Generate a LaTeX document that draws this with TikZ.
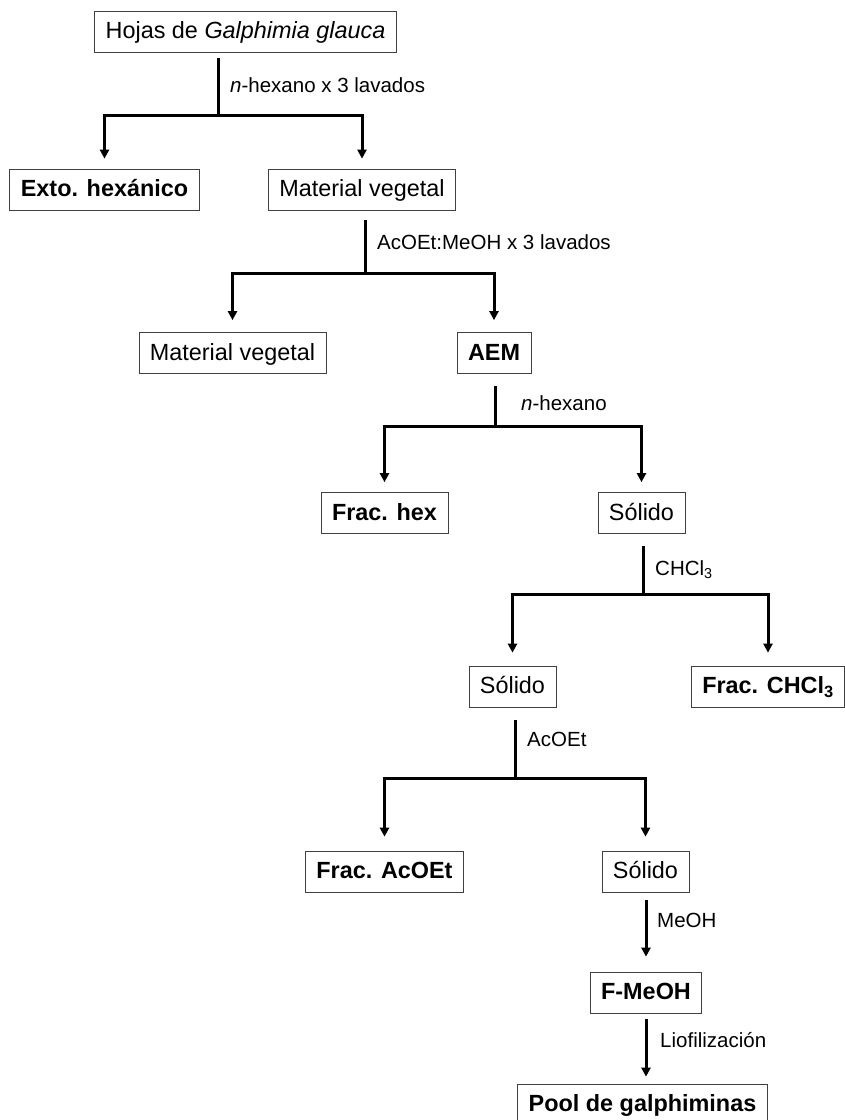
\documentclass[tikz,border=0pt]{standalone}
\usepackage{fontspec}
\setmainfont{Liberation Sans}
\usetikzlibrary{arrows.meta}

\tikzset{
  caja/.style={draw=black!75, line width=0.8pt, inner xsep=11pt, inner ysep=9.7pt,
    text height=18pt, text depth=3.5pt, font=\fontsize{23.4}{28}\selectfont},
  negrita/.style={caja, font=\fontsize{23.4}{28}\selectfont\bfseries},
  rama/.style={line width=3pt},
  flecha/.style={rama, -{Triangle[width=9pt,length=9pt]}},
  etiq/.style={anchor=base west, inner sep=0pt, font=\fontsize{20.5}{24}\selectfont},
}

\begin{document}
\begin{tikzpicture}[x=1pt,y=-1pt]
    \useasboundingbox (0,0) rectangle (845,1120);
    % cajas
    \node[caja] (hojas) at (245.5,31.5) {Hojas de \textit{Galphimia glauca}};
    \node[negrita] (exto) at (104.5,189.5) {Exto. hexánico};
    \node[caja] (mat1) at (362,189.5) {Material vegetal};
    \node[caja] (mat2) at (232.5,353) {Material vegetal};
    \node[negrita] (aem) at (494,353) {AEM};
    \node[negrita] (frachex) at (384.5,513) {Frac. hex};
    \node[caja] (solido1) at (641.5,513) {Sólido};
    \node[caja] (solido2) at (512.5,686.5) {Sólido};
    \node[negrita] (fracchcl) at (768,686.5) {Frac. CHCl\textsubscript{3}};
    \node[negrita] (fracacoet) at (384.5,871.5) {Frac. AcOEt};
    \node[caja] (solido3) at (645.5,871.5) {Sólido};
    \node[negrita] (fmeoh) at (646,992.5) {F-MeOH};
    \node[negrita] (pool) at (642.5,1104.5) {Pool de galphiminas};
    % puntos de ramificacion
    \coordinate (b1) at (218,115);
    \coordinate (b2) at (365,273);
    \coordinate (b3) at (495,426);
    \coordinate (b4) at (643,594);
    \coordinate (b5) at (515,778);
    % ramas
    \draw[rama, shorten <=6pt] (hojas.south -| b1) -- (b1);
    \draw[flecha, shorten >=10pt] (b1) -| (exto.north);
    \draw[flecha, shorten >=10pt] (b1) -| (mat1.north);
    \draw[rama, shorten <=10pt] (mat1.south -| b2) -- (b2);
    \draw[flecha, shorten >=12pt] (b2) -| (mat2.north);
    \draw[flecha, shorten >=12pt] (b2) -| (aem.north);
    \draw[rama, shorten <=12pt] (aem.south -| b3) -- (b3);
    \draw[flecha, shorten >=10pt] (b3) -| (frachex.north);
    \draw[flecha, shorten >=10pt] (b3) -| (solido1.north);
    \draw[rama, shorten <=12pt] (solido1.south -| b4) -- (b4);
    \draw[flecha, shorten >=13pt] (b4) -| (solido2.north);
    \draw[flecha, shorten >=13pt] (b4) -| (fracchcl.north);
    \draw[rama, shorten <=13pt] (solido2.south -| b5) -- (b5);
    \draw[flecha, shorten >=14pt] (b5) -| (fracacoet.north);
    \draw[flecha, shorten >=14pt] (b5) -| (solido3.north);
    \draw[flecha, shorten <=8pt, shorten >=15pt] (solido3.south -| fmeoh) -- (fmeoh.north);
    \draw[flecha, shorten <=6pt, shorten >=7pt] (fmeoh.south) -- (pool.north -| fmeoh);
    % etiquetas
    \node[etiq] (l1) at (230,92) {\textit{n}-hexano x 3 lavados};
    \node[etiq] (l2) at (377,249) {AcOEt:MeOH x 3 lavados};
    \node[etiq] (l3) at (521,410) {\textit{n}-hexano};
    \node[etiq] (l4) at (655,575) {CHCl\textsubscript{3}};
    \node[etiq] (l5) at (527,746) {AcOEt};
    \node[etiq] (l6) at (657,927) {MeOH};
    \node[etiq] (l7) at (660,1047) {Liofilización};
\end{tikzpicture}
\end{document}
